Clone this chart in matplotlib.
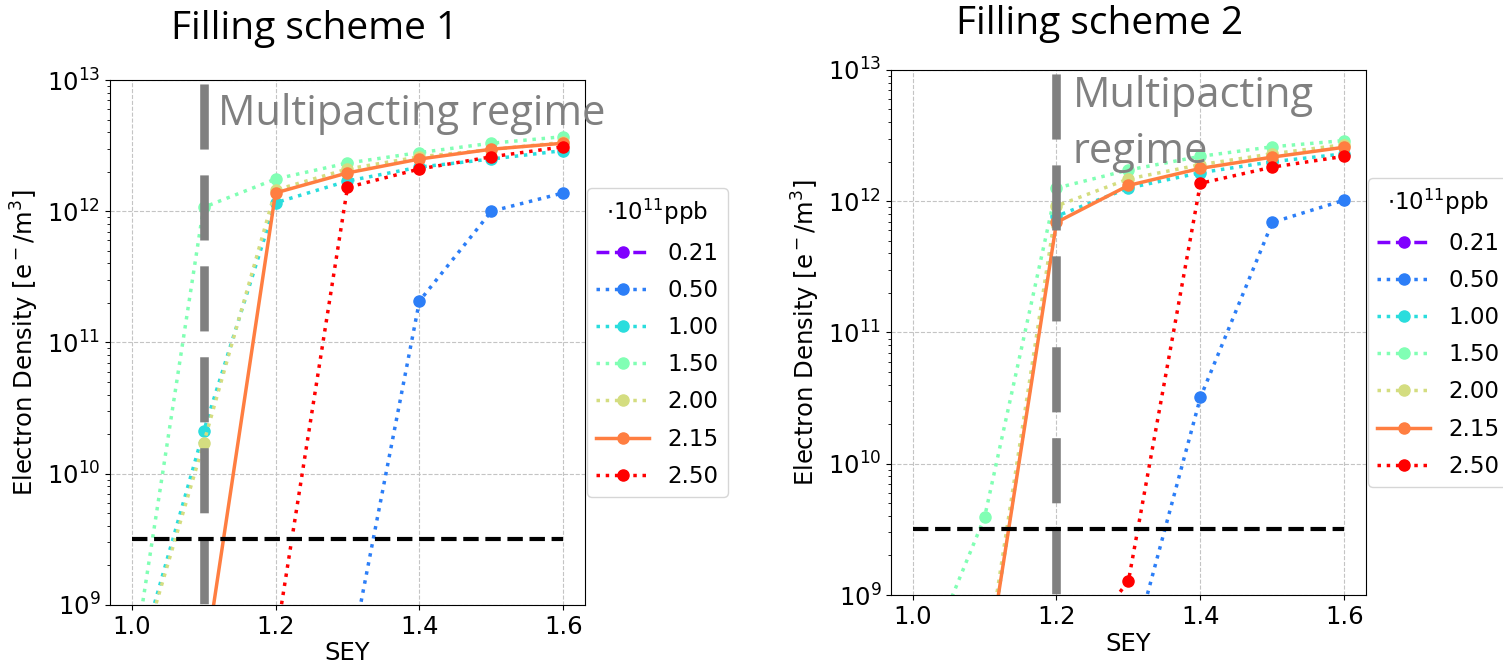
import matplotlib
matplotlib.use('Agg')
import matplotlib.pyplot as plt
import numpy as np

# SEY values (x axis)
sey = [1.0, 1.1, 1.2, 1.3, 1.4, 1.5, 1.6]

# bunch intensities (10^11 ppb)
intensities = ['0.21', '0.50', '1.00', '1.50', '2.00', '2.15', '2.50']
styles = ['--', ':', ':', ':', ':', '-', ':']

# Filling scheme 1: electron density [e-/m^3]
fs1_021 = [5e6, 8e6, 1e7, 2e7, 4e7, 6e7, 8e7]
fs1_050 = [1e7, 2e7, 5e7, 3.1e8, 2.07e11, 1.0e12, 1.38e12]
fs1_100 = [2.5e8, 2.1e10, 1.16e12, 1.7e12, 2.17e12, 2.5e12, 2.9e12]
fs1_150 = [2.95e8, 1.07e12, 1.76e12, 2.33e12, 2.8e12, 3.3e12, 3.7e12]
fs1_200 = [2.4e8, 1.7e10, 1.45e12, 2.1e12, 2.6e12, 2.95e12, 3.35e12]
fs1_215 = [5e7, 3.1e8, 1.38e12, 1.96e12, 2.5e12, 2.97e12, 3.3e12]
fs1_250 = [2e7, 5e7, 5.2e8, 1.52e12, 2.1e12, 2.6e12, 3.1e12]

# Filling scheme 2
fs2_021 = [5e6, 8e6, 1e7, 2e7, 4e7, 6e7, 8e7]
fs2_050 = [1e7, 2e7, 5e7, 2.95e8, 3.2e10, 6.9e11, 1.02e12]
fs2_100 = [1e7, 2.1e8, 7.7e11, 1.26e12, 1.65e12, 2.0e12, 2.3e12]
fs2_150 = [1.8e8, 3.9e9, 1.26e12, 1.73e12, 2.2e12, 2.6e12, 2.9e12]
fs2_200 = [1e7, 2.5e8, 9.2e11, 1.48e12, 1.9e12, 2.3e12, 2.7e12]
fs2_215 = [1e7, 2.1e8, 6.9e11, 1.32e12, 1.78e12, 2.17e12, 2.58e12]
fs2_250 = [1e7, 5e7, 2.45e8, 1.28e9, 1.37e12, 1.82e12, 2.2e12]

threshold = 3.2e9
multipacting_sey = [1.1, 1.2]

scheme1 = [fs1_021, fs1_050, fs1_100, fs1_150, fs1_200, fs1_215, fs1_250]
scheme2 = [fs2_021, fs2_050, fs2_100, fs2_150, fs2_200, fs2_215, fs2_250]

colors = plt.cm.rainbow(np.linspace(0, 1, len(intensities)))

fig = plt.figure(figsize=(15.03, 6.64), dpi=100)
ax1 = fig.add_axes([0.0732, 0.0889, 0.316, 0.7906])
ax2 = fig.add_axes([0.5928, 0.1039, 0.316, 0.7907])

title_font = ['Open Sans', 'DejaVu Sans']

for ax, data, vx in [(ax1, scheme1, multipacting_sey[0]), (ax2, scheme2, multipacting_sey[1])]:
    for vals, lab, ls, c in zip(data, intensities, styles, colors):
        ax.plot(sey, vals, linestyle=ls, marker='o', color=c, lw=2.5,
                markersize=8, label=lab)
    # multipacting boundary
    ax.plot([vx, vx], [1e13, 1e9], color='gray', lw=6.2,
            linestyle=(10.1, (7.56, 3.0)))
    # threshold
    ax.plot([sey[0], sey[-1]], [threshold, threshold], 'k--', lw=3)
    ax.set_yscale('log')
    ax.set_ylim(1e9, 1e13)
    ax.set_xlim(0.97, 1.63)
    ax.set_xticks([1.0, 1.2, 1.4, 1.6])
    ax.grid(True, which='major', linestyle='--', color='#c4c4c4', lw=0.8)
    ax.tick_params(labelsize=17.5)
    ax.set_xlabel('SEY', fontsize=17.5, labelpad=2)
    ax.set_ylabel('Electron Density [e$^-$/m$^3$]', fontsize=17.5)
    ax.legend(title='$\\cdot 10^{11}$ppb', title_fontsize=16.5, fontsize=16.5,
              loc='center left', bbox_to_anchor=(1.0, 0.5), borderaxespad=0.1,
              handlelength=2.3, labelspacing=0.62)

ax1.text(0.227, 0.914, 'Multipacting regime', transform=ax1.transAxes,
         fontsize=30, color='gray', family=title_font, va='baseline')
ax2.text(0.383, 0.823, 'Multipacting\nregime', transform=ax2.transAxes,
         fontsize=30, color='gray', family=title_font, va='baseline',
         linespacing=1.45)

fig.text(0.2096, 0.941, 'Filling scheme 1', fontsize=28, family=title_font,
         ha='center', va='baseline')
fig.text(0.7319, 0.949, 'Filling scheme 2', fontsize=28, family=title_font,
         ha='center', va='baseline')

fig.savefig('out.png', dpi=100)
